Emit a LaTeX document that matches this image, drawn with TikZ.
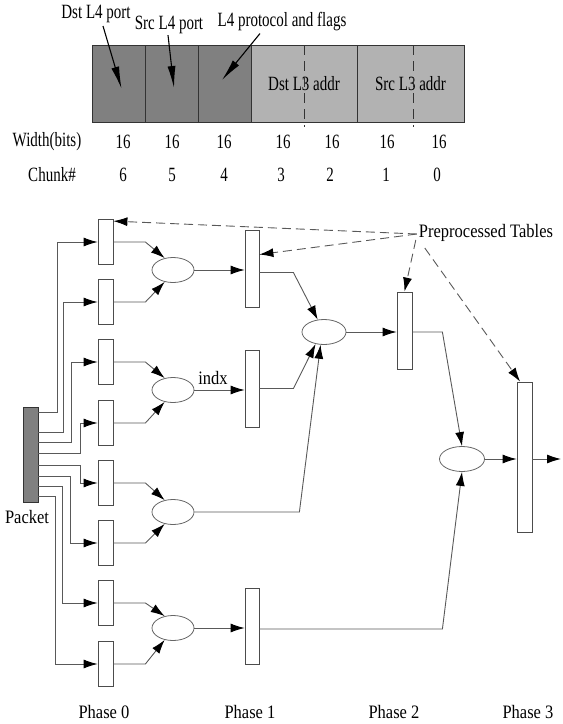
\documentclass[tikz,border=0pt]{standalone}
\usepackage{fontspec}
\setmainfont{Liberation Serif}
\usepackage{graphicx}
\usetikzlibrary{arrows.meta,calc,shapes.geometric}
\newcommand{\tv}[1]{\scalebox{1}[1.35]{#1}}
\newcommand{\bv}[1]{\scalebox{1}[1.15]{#1}}
\begin{document}
\begin{tikzpicture}[x=1pt,y=-1pt,
 tlbl/.style={font=\fontsize{15}{18}\selectfont, inner sep=0pt},
 blbl/.style={font=\fontsize{16.5}{20}\selectfont, inner sep=0pt},
 cell/.style={draw=black!80, line width=0.9pt, minimum height=77pt, inner sep=0pt, font=\fontsize{15}{18}\selectfont},
 tbox/.style={draw=black!70, fill=white, line width=0.8pt, minimum width=15pt, inner sep=0pt},
 oval/.style={ellipse, draw=black!60, fill=white, line width=0.8pt, minimum width=42pt, minimum height=25pt, inner sep=0pt},
 wire/.style={draw=black!65, line width=0.9pt},
 arr/.style={wire, -{Latex[length=14pt,width=9pt,black]}},
 darr/.style={arr, dash pattern=on 9pt off 5pt},
 bigarr/.style={draw=black, line width=1.1pt, -{Latex[length=22pt,width=8pt]}},
]
\useasboundingbox (0,0) rectangle (563,724);

% ---------- packet header record ----------
\node[cell, fill=black!50, minimum width=53pt] (c6) at (118.5,83.5) {};
\node[cell, fill=black!50, minimum width=53pt] (c5) at (171.5,83.5) {};
\node[cell, fill=black!50, minimum width=53pt] (c4) at (224.5,83.5) {};
\node[cell, fill=black!30, minimum width=106pt] (dstl3) at (304,83.5) {\tv{Dst L3 addr}};
\node[cell, fill=black!30, minimum width=107pt] (srcl3) at (410.5,83.5) {\tv{Src L3 addr}};
\foreach \x in {304,413} \draw[black!80, line width=0.8pt, dash pattern=on 10pt off 6pt] (\x,45) -- (\x,127);

\node[tlbl] (dstl4) at (96,14) {\tv{Dst L4 port}};
\node[tlbl] (srcl4) at (169,25) {\tv{Src L4 port}};
\node[tlbl] (l4p) at (282,22) {\tv{L4 protocol and flags}};
\draw[bigarr] ($(dstl4.south)+(7,3)$) -- ($(c6.center)+(3,5)$);
\draw[bigarr] ($(srcl4.south)+(-1,1)$) -- ($(c5.center)+(2.5,4.5)$);
\draw[bigarr] ($(l4p.south)+(-22,2)$) -- ($(c4.center)+(-2.5,-3.5)$);

\node[tlbl] (wlbl) at (47,142) {\tv{Width(bits)}};
\node[tlbl] (klbl) at (52,175) {\tv{Chunk\#}};
\foreach \n/\x in {6/123,5/172,4/224,3/283,2/332,1/387,0/439}
  \node[tlbl] (w\n) at (\x,142) {\tv{16}};
\foreach \n/\x in {6/123,5/172,4/224,3/281,2/330,1/386,0/437}
  \node[tlbl] (k\n) at (\x,175) {\tv{\n}};

% ---------- lookup graph ----------
\node[draw=black!80, fill=black!50, line width=0.8pt, minimum width=15pt, minimum height=95pt, inner sep=0pt] (pk) at (30.5,454.5) {};
\node[blbl] (pklbl) at (27,517) {\bv{Packet}};

\foreach \i/\y in {1/242,2/302,3/362,4/423,5/483,6/543,7/603,8/664}
  \node[tbox, minimum height=45pt] (b\i) at (105.5,\y) {};

\foreach \i/\o/\d in {1/6/19, 2/26/25, 3/36/33, 4/47/42, 5/59/42, 6/70/32, 7/80/24, 8/90/17}
  \draw[arr] ($(pk.north east)+(0,\o)$) -- ++(\d,0) |- (b\i.west);

\node[oval] (e1) at (173,270) {};
\node[oval] (e2) at (173,390) {};
\node[oval] (e3) at (173,512) {};
\node[oval] (e4) at (173,628) {};

\foreach \b/\e/\a in {1/1/125, 2/1/235, 3/2/125, 4/2/235, 5/3/125, 6/3/235, 7/4/125, 8/4/235}
  \draw[arr] (b\b.east) -- ++(32,0) -- (e\e.\a);

\node[tbox, minimum width=14pt, minimum height=77pt] (p1a) at (252,268.5) {};
\node[tbox, minimum width=14pt, minimum height=77pt] (p1b) at (252,388.5) {};
\node[tbox, minimum width=14pt, minimum height=76pt] (p1c) at (252,626) {};

\draw[arr] (e1) -- (e1 -| p1a.west);
\draw[arr] (e2) -- (e2 -| p1b.west);
\node[blbl] (indx) at (213,378) {\bv{indx}};
\draw[arr] (e4) -- (e4 -| p1c.west);

\node[oval, minimum width=44pt] (e5) at (324,332) {};
\node[tbox, minimum height=77pt] (p2) at (404.5,330.5) {};

\draw[arr] ($(p1a.east)+(0,4)$) -- ++(34,0) -- (e5.117);
\draw[arr] (p1b.east) -- ++(34,0) -- (e5.235);
\draw[arr] (e3.east) -- ++(105,0) -- (e5.255);
\draw[arr] (e5) -- (e5 -| p2.west);

\node[oval, minimum width=45pt] (e6) at (462,459) {};
\node[tbox, minimum height=150pt] (p3) at (524.5,457) {};
\coordinate (out) at (561,459);

\draw[arr] ($(p2.east)+(0,1.5)$) -- ++(30,0) -- (e6.north);
\draw[arr] ($(p1c.east)+(0,3)$) -- ++(183,0) -- (e6.south);
\draw[arr] (e6) -- (e6 -| p3.west);
\draw[arr] (e6 -| p3.east) -- (out);

\node[blbl] (pt) at (486,233) {\bv{Preprocessed Tables}};
\coordinate (s1) at ($(pt.west)+(-2,1)$);
\coordinate (s2) at ($(pt.west)+(-3,7)$);
\coordinate (s3) at ($(pt.west)+(6,15)$);
\draw[darr] (s1) -- ($(b1.north east)+(0,2)$);
\draw[darr] (s1) -- ($(p1a.east)+(0,-14)$);
\draw[darr] (s2) -- (p2.north);
\draw[darr] (s3) -- ($(p3.north west)+(3.5,0)$);

\node[blbl] (ph0) at (104,712) {\bv{Phase 0}};
\node[blbl] (ph1) at (250,712) {\bv{Phase 1}};
\node[blbl] (ph2) at (394,712) {\bv{Phase 2}};
\node[blbl] (ph3) at (528,712) {\bv{Phase 3}};
\end{tikzpicture}
\end{document}
